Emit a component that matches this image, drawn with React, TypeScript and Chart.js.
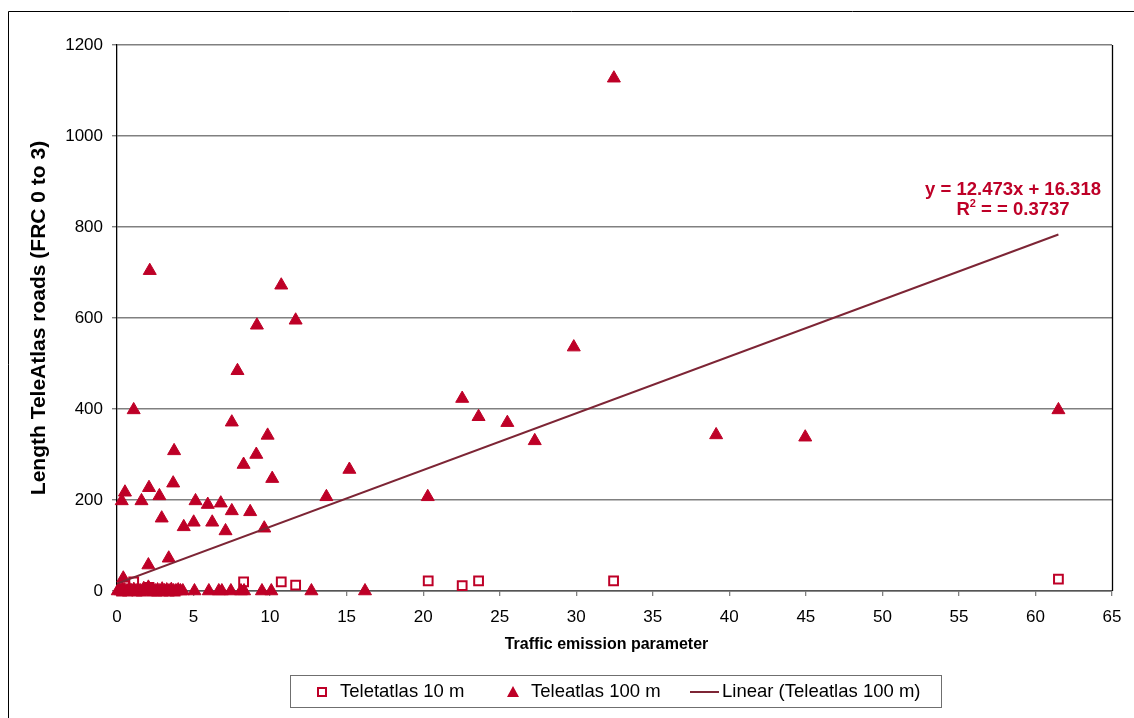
import React, { useEffect, useRef } from "react";
import { Chart, registerables } from "chart.js";

Chart.register(...registerables);

// ---- Data ----
const xTickValues = [0, 5, 10, 15, 20, 25, 30, 35, 40, 45, 50, 55, 60, 65];
const yTickValues = [0, 200, 400, 600, 800, 1000, 1200];

// Teleatlas 100 m (triangles)
const tele100X = [
  2.14, 10.73, 9.14, 11.67, 7.87, 1.09, 7.5, 9.84, 8.27, 9.1, 3.73, 10.14, 3.67, 2.09, 0.52,
  0.31, 1.6, 2.77, 5.13, 5.93, 6.78, 7.5, 8.7, 2.92, 4.36, 5.01, 6.22, 7.09, 9.62, 2.05, 3.38,
  0.41, 13.68, 15.18, 20.3, 22.55, 23.62, 25.5, 27.29, 29.84, 32.46, 39.14, 44.96, 61.5,
  0.05, 0.15, 0.25, 0.35, 0.5, 0.65, 0.8, 0.95, 1.1, 1.25, 1.4, 1.55, 1.75, 1.9, 2.05, 2.2,
  2.35, 2.5, 2.65, 2.8, 2.95, 3.1, 3.25, 3.4, 3.55, 3.7, 3.85, 4.0, 4.15, 4.3, 5.06, 6.0,
  6.65, 6.85, 7.44, 8.1, 8.3, 9.47, 10.08, 12.7, 16.2,
];
const tele100Y = [
  704, 672, 584, 595, 484, 398, 371, 342, 278, 300, 308, 247, 237, 227, 217,
  198, 198, 209, 198, 190, 193, 176, 174, 160, 141, 151, 151, 132, 138, 57, 72,
  28, 207, 267, 207, 423, 383, 370, 330, 536, 1127, 343, 338, 398,
  0, 3, 0, 5, 2, 0, 4, 0, 3, 0, 2, 0, 5, 0, 8, 0,
  3, 0, 2, 0, 4, 0, 2, 0, 3, 0, 0, 2, 0, 0, 0, 0,
  0, 0, 0, 0, 0, 0, 0, 0, 0,
];

// Teletatlas 10 m (open squares)
const tele10X = [
  1.09, 2.09, 8.27, 10.73, 11.67, 20.33, 22.55, 23.62, 32.44, 61.5,
  0.3, 0.7, 1.3, 1.6, 2.3, 2.6, 3.0, 3.4, 3.8,
];
const tele10Y = [
  20, 8, 20, 20, 13, 22, 12, 22, 22, 26,
  0, 0, 0, 0, 0, 0, 0, 0, 0,
];

// Linear trendline (Teleatlas 100 m)
const trendSlope = 12.473;
const trendIntercept = 16.318;
const trendR2 = 0.3737;
const trendXRange = [0, 61.5];

const seriesLabels = ["Teletatlas 10 m", "Teleatlas 100 m", "Linear (Teleatlas 100 m)"];
const xTitle = "Traffic emission parameter";
const yTitle = "Length TeleAtlas roads (FRC 0 to 3)";

// ---- Styles ----
const RED = "#BE0027";
const MAROON = "#7D2535";
const GRID = "#808080";
const FONT = '"Liberation Sans", Arial, Helvetica, sans-serif';

const decorPlugin = {
  id: "decor",
  afterDraw(chart: any) {
    const ctx = chart.ctx as CanvasRenderingContext2D;
    const ca = chart.chartArea;
    ctx.save();

    // outer chart border (top & left visible)
    ctx.strokeStyle = "#000";
    ctx.lineWidth = 1;
    ctx.beginPath();
    ctx.moveTo(8.5, 718);
    ctx.lineTo(8.5, 11.5);
    ctx.lineTo(1134, 11.5);
    ctx.stroke();

    // plot area right border
    ctx.beginPath();
    ctx.strokeStyle = "#000";
    ctx.lineWidth = 1.3;
    ctx.moveTo(ca.right + 0.5, ca.top);
    ctx.lineTo(ca.right + 0.5, ca.bottom);
    ctx.stroke();

    // y title
    ctx.fillStyle = "#000";
    ctx.save();
    ctx.translate(39, (ca.top + ca.bottom) / 2);
    ctx.rotate(-Math.PI / 2);
    ctx.font = `bold 21px ${FONT}`;
    ctx.textAlign = "center";
    ctx.textBaseline = "middle";
    ctx.fillText(yTitle, 0, 0);
    ctx.restore();

    // x title
    ctx.font = `bold 16px ${FONT}`;
    ctx.textAlign = "center";
    ctx.textBaseline = "middle";
    ctx.fillText(xTitle, (ca.left + ca.right) / 2 - 8, 645);

    // trendline equation
    ctx.fillStyle = RED;
    ctx.font = `bold 18.5px ${FONT}`;
    ctx.textAlign = "center";
    const eqX = 1013;
    ctx.fillText(`y = ${trendSlope}x + ${trendIntercept}`, eqX, 190);
    const partA = "R";
    const partC = ` = = ${trendR2}`;
    const wA = ctx.measureText(partA).width;
    const wC = ctx.measureText(partC).width;
    ctx.font = `bold 11px ${FONT}`;
    const wB = ctx.measureText("2").width;
    const start = eqX - (wA + wB + wC) / 2;
    ctx.textAlign = "left";
    ctx.font = `bold 18.5px ${FONT}`;
    ctx.fillText(partA, start, 210);
    ctx.fillText(partC, start + wA + wB, 210);
    ctx.font = `bold 11px ${FONT}`;
    ctx.fillText("2", start + wA, 204);

    // legend
    ctx.strokeStyle = "#6f6f6f";
    ctx.lineWidth = 1;
    ctx.strokeRect(290.5, 675.5, 651, 32);
    const ly = 692;
    // square
    ctx.fillStyle = "#fff";
    ctx.fillRect(318, 688, 8, 8);
    ctx.strokeStyle = RED;
    ctx.lineWidth = 2;
    ctx.strokeRect(318, 688, 8, 8);
    // triangle
    ctx.fillStyle = RED;
    ctx.beginPath();
    ctx.moveTo(513, ly - 6);
    ctx.lineTo(519, ly + 5);
    ctx.lineTo(507, ly + 5);
    ctx.closePath();
    ctx.fill();
    // line
    ctx.strokeStyle = MAROON;
    ctx.lineWidth = 2;
    ctx.beginPath();
    ctx.moveTo(690, ly);
    ctx.lineTo(719, ly);
    ctx.stroke();
    // texts
    ctx.fillStyle = "#000";
    ctx.font = `18.5px ${FONT}`;
    ctx.textAlign = "left";
    ctx.textBaseline = "middle";
    ctx.fillText(seriesLabels[0], 340, ly);
    ctx.fillText(seriesLabels[1], 531, ly);
    ctx.fillText(seriesLabels[2], 722, ly);

    ctx.restore();
  },
};

export default function App() {
  const canvasRef = useRef<HTMLCanvasElement | null>(null);

  useEffect(() => {
    if (!canvasRef.current) return;
    const tickFont = { family: FONT, size: 17 };
    const chart = new Chart(canvasRef.current, {
      type: "scatter",
      data: {
        datasets: [
          {
            type: "line",
            label: seriesLabels[2],
            data: trendXRange.map((x) => ({ x, y: trendSlope * x + trendIntercept })),
            borderColor: MAROON,
            backgroundColor: MAROON,
            borderWidth: 2,
            pointRadius: 0,
            showLine: true,
            fill: false,
            order: 0,
          } as any,
          {
            label: seriesLabels[1],
            data: tele100X.map((x, i) => ({ x, y: tele100Y[i] })),
            pointStyle: "triangle",
            pointRadius: 7.5,
            backgroundColor: RED,
            borderColor: RED,
            borderWidth: 1,
            clip: false,
            order: 1,
          } as any,
          {
            label: seriesLabels[0],
            data: tele10X.map((x, i) => ({ x, y: tele10Y[i] })),
            pointStyle: "rect",
            pointRadius: 6.2,
            backgroundColor: "#fff",
            borderColor: RED,
            borderWidth: 2,
            clip: false,
            order: 2,
          } as any,
        ],
      },
      options: {
        responsive: false,
        animation: false,
        layout: { padding: { left: 0, top: 45, right: 22, bottom: 0 } },
        plugins: {
          legend: { display: false },
          tooltip: { enabled: false },
          title: { display: false },
        },
        scales: {
          x: {
            type: "linear",
            min: 0,
            max: 65,
            afterBuildTicks: (s: any) => {
              s.ticks = xTickValues.map((v) => ({ value: v }));
            },
            afterFit: (s: any) => {
              s.height = 127;
            },
            ticks: {
              font: tickFont,
              color: "#000",
              padding: 11,
              maxRotation: 0,
              autoSkip: false,
              callback: (v: any) => String(v),
            },
            grid: {
              drawOnChartArea: false,
              drawTicks: true,
              tickLength: 5,
              color: GRID,
              lineWidth: 1.3,
            },
            border: { color: "#555", width: 1.5 },
          },
          y: {
            type: "linear",
            min: 0,
            max: 1200,
            afterBuildTicks: (s: any) => {
              s.ticks = yTickValues.map((v) => ({ value: v }));
            },
            afterFit: (s: any) => {
              s.width = 117;
            },
            ticks: {
              font: tickFont,
              color: "#000",
              padding: 9,
              callback: (v: any) => String(v),
            },
            grid: {
              color: GRID,
              lineWidth: 1.4,
              tickLength: 5,
            },
            border: { color: "#000", width: 1.3 },
          },
        },
      },
      plugins: [decorPlugin],
    });
    return () => chart.destroy();
  }, []);

  return (
    <div
      style={{
        position: "fixed",
        left: 0,
        top: 0,
        width: 1134,
        height: 718,
        background: "#fff",
      }}
    >
      <canvas ref={canvasRef} width={1134} height={718} style={{ display: "block" }} />
    </div>
  );
}
